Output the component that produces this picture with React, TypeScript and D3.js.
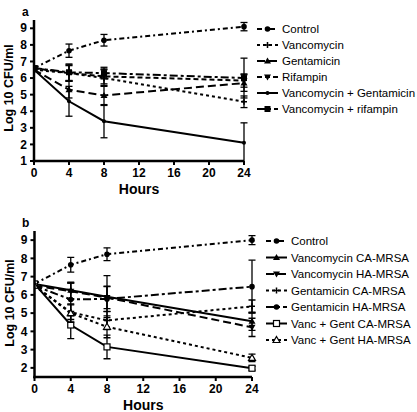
import React from "react";
import * as d3 from "d3";

const hours = [0, 4, 8, 24];
const xTicks = [0, 4, 8, 12, 16, 20, 24];
const yTicksA = [1, 2, 3, 4, 5, 6, 7, 8, 9];
const yTicksB = [2, 3, 4, 5, 6, 7, 8, 9];

// Panel a
const aNames = ["Control", "Vancomycin", "Gentamicin", "Rifampin", "Vancomycin + Gentamicin", "Vancomycin + rifampin"];
const aControl = [6.6, 7.65, 8.28, 9.1];
const aVanc = [6.5, 6.3, 6.0, 4.57];
const aGent = [6.5, 5.3, 4.95, 5.7];
const aRif = [6.6, 6.3, 6.1, 5.85];
const aVancGent = [6.5, 4.6, 3.4, 2.1];
const aVancRif = [6.6, 6.35, 6.3, 6.0];
const aErrControl = [0.1, 0.4, 0.35, 0.25];
const aErrVanc = [0.1, 0.5, 0.5, 0.35];
const aErrGent = [0.1, 0.5, 0.6, 0.5];
const aErrRif = [0.1, 0.45, 0.45, 0.4];
const aErrVancGent = [0.1, 0.9, 1.0, 1.2];
const aErrVancRif = [0.1, 0.5, 0.35, 1.2];

// Panel b
const bNames = ["Control", "Vancomycin CA-MRSA", "Vancomycin HA-MRSA", "Gentamicin CA-MRSA", "Gentamicin HA-MRSA", "Vanc + Gent CA-MRSA", "Vanc + Gent HA-MRSA"];
const bControl = [6.6, 7.65, 8.23, 9.0];
const bVancCA = [6.6, 6.25, 5.9, 4.55];
const bVancHA = [6.5, 6.2, 5.85, 4.22];
const bGentCA = [6.5, 5.05, 4.6, 5.37];
const bGentHA = [6.5, 5.75, 5.78, 6.45];
const bVGCA = [6.6, 4.35, 3.15, 1.98];
const bVGHA = [6.5, 5.0, 4.25, 2.55];
const bErrControl = [0.1, 0.4, 0.35, 0.25];
const bErrVancCA = [0.1, 0.45, 1.15, 0.5];
const bErrVancHA = [0.1, 0.45, 0.6, 0.5];
const bErrGentCA = [0.1, 0.4, 0.5, 0.35];
const bErrGentHA = [0.1, 0.9, 0.7, 1.45];
const bErrVGCA = [0.1, 0.75, 0.65, 0.1];
const bErrVGHA = [0.1, 0.5, 0.6, 0.2];

type Series = { name: string; values: number[]; err: number[]; dash: string; marker: string };

const seriesA: Series[] = [
  { name: aNames[0], values: aControl, err: aErrControl, dash: "5,3,2,3", marker: "circle" },
  { name: aNames[1], values: aVanc, err: aErrVanc, dash: "3,3", marker: "plus" },
  { name: aNames[2], values: aGent, err: aErrGent, dash: "8,4", marker: "tri" },
  { name: aNames[3], values: aRif, err: aErrRif, dash: "5,3", marker: "itri" },
  { name: aNames[4], values: aVancGent, err: aErrVancGent, dash: "", marker: "dot" },
  { name: aNames[5], values: aVancRif, err: aErrVancRif, dash: "8,3,3,3", marker: "square" },
];

const seriesB: Series[] = [
  { name: bNames[0], values: bControl, err: bErrControl, dash: "5,3,2,3", marker: "circle" },
  { name: bNames[1], values: bVancCA, err: bErrVancCA, dash: "", marker: "tri" },
  { name: bNames[2], values: bVancHA, err: bErrVancHA, dash: "8,4", marker: "itri" },
  { name: bNames[3], values: bGentCA, err: bErrGentCA, dash: "3,3", marker: "plus" },
  { name: bNames[4], values: bGentHA, err: bErrGentHA, dash: "8,3,3,3", marker: "circle" },
  { name: bNames[5], values: bVGCA, err: bErrVGCA, dash: "", marker: "osquare" },
  { name: bNames[6], values: bVGHA, err: bErrVGHA, dash: "3,3", marker: "otri" },
];

const FONT = "'Liberation Sans', Arial, sans-serif";

function Marker({ type, x, y }: { type: string; x: number; y: number }) {
  const s = 3;
  switch (type) {
    case "circle":
      return <circle cx={x} cy={y} r={2.8} fill="#000" />;
    case "dot":
      return <circle cx={x} cy={y} r={2} fill="#000" />;
    case "plus":
      return <path d={`M${x - 3},${y}h6M${x},${y - 3}v6`} stroke="#000" strokeWidth={1.5} />;
    case "tri":
      return <path d={`M${x},${y - 3.5}L${x + 3.5},${y + 2.5}L${x - 3.5},${y + 2.5}Z`} fill="#000" />;
    case "itri":
      return <path d={`M${x},${y + 3.5}L${x + 3.5},${y - 2.5}L${x - 3.5},${y - 2.5}Z`} fill="#000" />;
    case "square":
      return <rect x={x - s} y={y - s} width={2 * s} height={2 * s} fill="#000" />;
    case "osquare":
      return <rect x={x - s} y={y - s} width={2 * s} height={2 * s} fill="#fff" stroke="#000" strokeWidth={1.2} />;
    case "otri":
      return <path d={`M${x},${y - 3.5}L${x + 3.5},${y + 2.5}L${x - 3.5},${y + 2.5}Z`} fill="#fff" stroke="#000" strokeWidth={1.2} />;
    default:
      return null;
  }
}

function Panel({
  label, series, yDomain, yTicks, x0, x1, yTop, yBottom, legendX, legendY, legendStep, titleY,
}: {
  label: string; series: Series[]; yDomain: [number, number]; yTicks: number[];
  x0: number; x1: number; yTop: number; yBottom: number; legendX: number; legendY: number; legendStep: number; titleY: number;
}) {
  const x = d3.scaleLinear().domain([0, 24]).range([x0, x1]);
  const y = d3.scaleLinear().domain(yDomain).range([yBottom, yTop]);
  const line = d3.line<number>().x((_, i) => x(hours[i])).y((v) => y(v));
  const clip = (v: number) => Math.max(yDomain[0], Math.min(yDomain[1], v));
  const clipId = "clip-" + label;
  return (
    <g>
      <defs>
        <clipPath id={clipId}>
          <rect x={x0} y={yTop - 5} width={x1 - x0 + 10} height={yBottom - yTop + 5} />
        </clipPath>
      </defs>
      <text x={22} y={yTop - 4} fontFamily={FONT} fontWeight="bold" fontSize={12}>{label}</text>
      <g clipPath={`url(#${clipId})`}>
        {series.map((s, si) => (
          <g key={si}>
            <path d={line(s.values) || ""} fill="none" stroke="#000" strokeWidth={2} strokeDasharray={s.dash} />
            {s.values.map((v, i) => {
              const cx = x(hours[i]);
              const lo = y(clip(v - s.err[i]));
              const hi = y(clip(v + s.err[i]));
              return (
                <g key={i}>
                  <line x1={cx} x2={cx} y1={lo} y2={hi} stroke="#000" strokeWidth={1.3} />
                  <line x1={cx - 3.5} x2={cx + 3.5} y1={hi} y2={hi} stroke="#000" strokeWidth={1.3} />
                  {v - s.err[i] > yDomain[0] && (
                    <line x1={cx - 3.5} x2={cx + 3.5} y1={lo} y2={lo} stroke="#000" strokeWidth={1.3} />
                  )}
                  <Marker type={s.marker} x={cx} y={y(v)} />
                </g>
              );
            })}
          </g>
        ))}
      </g>
      {/* axes */}
      <line x1={x0} x2={x0} y1={y(yDomain[1])} y2={yBottom + 1.2} stroke="#000" strokeWidth={2.5} />
      <line x1={x0 - 1.2} x2={x1} y1={yBottom} y2={yBottom} stroke="#000" strokeWidth={2.5} />
      {yTicks.map((t) => (
        <g key={t}>
          <line x1={x0 - 4} x2={x0} y1={y(t)} y2={y(t)} stroke="#000" strokeWidth={2} />
          <text x={x0 - 7} y={y(t)} dy="0.35em" textAnchor="end" fontFamily={FONT} fontWeight="bold" fontSize={12}>{t}</text>
        </g>
      ))}
      {xTicks.map((t) => (
        <g key={t}>
          <line x1={x(t)} x2={x(t)} y1={yBottom} y2={yBottom + 4} stroke="#000" strokeWidth={2} />
          <text x={x(t)} y={yBottom + 16} textAnchor="middle" fontFamily={FONT} fontWeight="bold" fontSize={12}>{t}</text>
        </g>
      ))}
      <text x={(x0 + x1) / 2} y={yBottom + 33} textAnchor="middle" fontFamily={FONT} fontWeight="bold" fontSize={14}>Hours</text>
      <text transform={`translate(${x0 - 21},${titleY}) rotate(-90)`} textAnchor="middle" fontFamily={FONT} fontWeight="bold" fontSize={12.5}>Log 10 CFU/ml</text>
      {/* legend */}
      {series.map((s, i) => {
        const ly = legendY + i * legendStep;
        return (
          <g key={i}>
            <line x1={legendX} x2={legendX + 21} y1={ly} y2={ly} stroke="#000" strokeWidth={2} strokeDasharray={s.dash} />
            <Marker type={s.marker} x={legendX + 10.5} y={ly} />
            <text x={legendX + 25} y={ly} dy="0.35em" fontFamily={FONT} fontSize={11.5}>{s.name}</text>
          </g>
        );
      })}
    </g>
  );
}

export default function App() {
  return (
    <svg width={417} height={412} style={{ position: "absolute", left: 0, top: 0, background: "#fff" }}>
      <rect width={417} height={412} fill="#fff" />
      <Panel label="a" series={seriesA} yDomain={[1, 9.5]} yTicks={yTicksA} x0={34} x1={244} yTop={20} yBottom={161}
        legendX={257} legendY={29} legendStep={16} titleY={88} />
      <Panel label="b" series={seriesB} yDomain={[1.5, 9.5]} yTicks={yTicksB} x0={34.5} x1={252} yTop={231} yBottom={377}
        legendX={266} legendY={241} legendStep={16.5} titleY={303} />
    </svg>
  );
}
